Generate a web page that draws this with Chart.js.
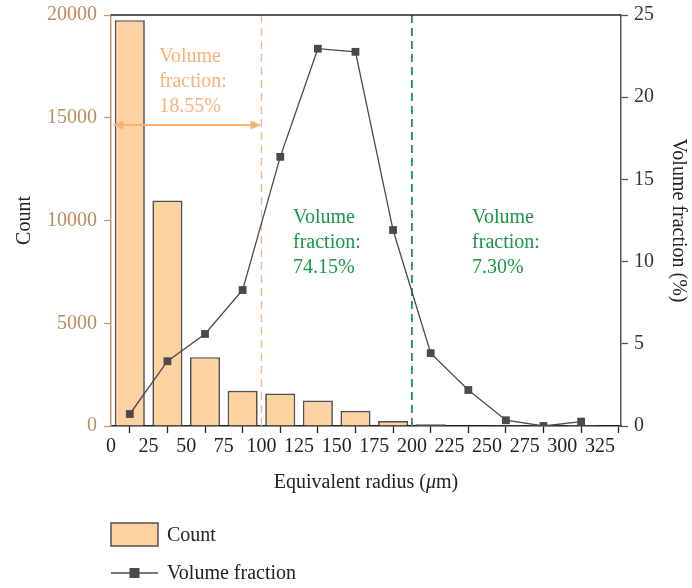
<!DOCTYPE html>
<html>
<head>
<meta charset="utf-8">
<script src="https://cdn.jsdelivr.net/npm/chart.js@4/dist/chart.umd.min.js"></script>
<style>
  html, body { margin: 0; padding: 0; background: #fff; }
  #wrap { width: 692px; height: 588px; }
</style>
</head>
<body>
<div id="wrap"><canvas id="c" width="692" height="588"></canvas></div>
<script>
// ---- data ----
const binCenters = [12.5, 37.5, 62.5, 87.5, 112.5, 137.5, 162.5, 187.5, 212.5, 237.5, 262.5, 287.5, 312.5];
const counts = [19750, 10970, 3350, 1710, 1580, 1240, 740, 240, 80, 30, 10, 4, 2];
const volumeFraction = [0.73, 3.94, 5.6, 8.27, 16.37, 22.95, 22.76, 11.92, 4.43, 2.19, 0.35, 0.0, 0.27];
const xTicks = [0, 25, 50, 75, 100, 125, 150, 175, 200, 225, 250, 275, 300, 325];
const countTicks = [0, 5000, 10000, 15000, 20000];
const volumeTicks = [0, 5, 10, 15, 20, 25];
const boundaries = [100, 200];
const arrowCountLevel = 14650;
const noteOrange = ['Volume', 'fraction:', '18.55%'];
const noteGreenMid = ['Volume', 'fraction:', '74.15%'];
const noteGreenRight = ['Volume', 'fraction:', '7.30%'];

// ---- styles ----
const FONT = "'Liberation Serif', 'DejaVu Serif', serif";
const ORANGE = '#F7B27A';
const ORANGE_DASH = '#F5B888';
const GREEN = '#1A9648';
const TAN = '#C49A6C';
const TAN_TEXT = '#B98C5E';
const DARK = '#4A4A4A';
const BAR_FILL = '#FDD2A0';

Chart.defaults.font.family = FONT;
Chart.defaults.font.size = 20;
Chart.defaults.color = '#222';

const annotations = [
  { lines: noteOrange, x: 32, y: 17700, color: ORANGE },
  { lines: noteGreenMid, x: 121, y: 9880, color: GREEN },
  { lines: noteGreenRight, x: 240, y: 9880, color: GREEN }
];

const overlay = {
  id: 'overlay',
  beforeDatasetsDraw(chart) {
    const { ctx, chartArea: a, scales } = chart;
    const x = scales.x, y = scales.y;
    ctx.save();
    boundaries.forEach((b, i) => {
      const px = x.getPixelForValue(b);
      ctx.beginPath();
      ctx.setLineDash([8, 5]);
      ctx.strokeStyle = i === 0 ? ORANGE_DASH : GREEN;
      ctx.lineWidth = i === 0 ? 1.4 : 1.8;
      ctx.moveTo(px, a.top);
      ctx.lineTo(px, a.bottom);
      ctx.stroke();
    });
    ctx.setLineDash([]);
    ctx.font = '20px ' + FONT;
    ctx.textAlign = 'left'; ctx.textBaseline = 'alphabetic';
    annotations.forEach(n => {
      const px = x.getPixelForValue(n.x), py = y.getPixelForValue(n.y);
      ctx.fillStyle = n.color;
      n.lines.forEach((t, k) => ctx.fillText(t, px, py + k * 25));
    });
    ctx.restore();
  },
  afterDatasetsDraw(chart) {
    const { ctx, scales } = chart;
    const x = scales.x, y = scales.y;
    ctx.save();
    const ay = y.getPixelForValue(arrowCountLevel);
    const x0 = x.getPixelForValue(0) + 1.5;
    const x1 = x.getPixelForValue(boundaries[0]);
    ctx.strokeStyle = ORANGE; ctx.fillStyle = ORANGE; ctx.lineWidth = 2;
    ctx.beginPath(); ctx.moveTo(x0 + 8, ay); ctx.lineTo(x1 - 8, ay); ctx.stroke();
    ctx.beginPath(); ctx.moveTo(x0, ay); ctx.lineTo(x0 + 11, ay - 4.5); ctx.lineTo(x0 + 11, ay + 4.5); ctx.closePath(); ctx.fill();
    ctx.beginPath(); ctx.moveTo(x1, ay); ctx.lineTo(x1 - 11, ay - 4.5); ctx.lineTo(x1 - 11, ay + 4.5); ctx.closePath(); ctx.fill();
    ctx.restore();
  },
  afterDraw(chart) {
    const { ctx, chartArea: a } = chart;
    ctx.save();
    ctx.strokeStyle = '#222'; ctx.lineWidth = 1.5;
    ctx.beginPath(); ctx.moveTo(a.left, a.top); ctx.lineTo(a.right, a.top); ctx.stroke();
    const cx = (a.left + a.right) / 2, ty = a.bottom + 62;
    const p1 = 'Equivalent radius (', mu = '\u03BC', p2 = 'm)';
    ctx.fillStyle = '#222'; ctx.textBaseline = 'alphabetic'; ctx.textAlign = 'left';
    ctx.font = '20px ' + FONT; const w1 = ctx.measureText(p1).width, w3 = ctx.measureText(p2).width;
    ctx.font = 'italic 20px ' + FONT; const w2 = ctx.measureText(mu).width;
    let sx = cx - (w1 + w2 + w3) / 2;
    ctx.font = '20px ' + FONT; ctx.fillText(p1, sx, ty);
    ctx.font = 'italic 20px ' + FONT; ctx.fillText(mu, sx + w1, ty);
    ctx.font = '20px ' + FONT; ctx.fillText(p2, sx + w1 + w2, ty);
    const ds = chart.data.datasets;
    const lx = a.left, ly = a.bottom + 97;
    ctx.fillStyle = ds[0].backgroundColor; ctx.strokeStyle = ds[0].borderColor; ctx.lineWidth = 1.5;
    ctx.fillRect(lx, ly, 47, 23); ctx.strokeRect(lx, ly, 47, 23);
    ctx.fillStyle = '#222'; ctx.font = '20px ' + FONT;
    ctx.fillText(ds[0].label, lx + 56, ly + 18);
    const ly2 = ly + 50;
    ctx.strokeStyle = ds[1].borderColor; ctx.lineWidth = 1.3;
    ctx.beginPath(); ctx.moveTo(lx, ly2); ctx.lineTo(lx + 47, ly2); ctx.stroke();
    ctx.fillStyle = ds[1].pointBackgroundColor; ctx.fillRect(lx + 23.5 - 5, ly2 - 5, 10, 10);
    ctx.fillStyle = '#222';
    ctx.fillText(ds[1].label, lx + 56, ly2 + 6);
    ctx.restore();
  }
};

new Chart(document.getElementById('c'), {
  type: 'bar',
  data: {
    datasets: [
      {
        type: 'bar', label: 'Count', order: 1,
        data: binCenters.map((c, i) => ({ x: c, y: counts[i] })),
        backgroundColor: BAR_FILL, borderColor: '#505050', borderWidth: 1.7,
        barPercentage: 0.8, categoryPercentage: 1.0, yAxisID: 'y', xAxisID: 'x'
      },
      {
        type: 'line', label: 'Volume fraction', order: 0,
        data: binCenters.map((c, i) => ({ x: c, y: volumeFraction[i] })),
        borderColor: DARK, borderWidth: 1.3, tension: 0,
        pointStyle: 'rect', pointRadius: 5.5, pointBorderWidth: 0,
        pointBackgroundColor: DARK, pointBorderColor: DARK,
        yAxisID: 'y1', xAxisID: 'x'
      }
    ]
  },
  options: {
    responsive: false, animation: false,
    layout: { padding: { top: 15, left: 0, right: 0, bottom: 0 } },
    plugins: { legend: { display: false }, tooltip: { enabled: false } },
    scales: {
      x: {
        type: 'linear', min: 0, max: 339, offset: false,
        afterFit(s) { s.height = 162; s.paddingLeft = 0; s.paddingRight = 0; },
        afterBuildTicks(s) { s.ticks = xTicks.map(v => ({ value: v })); },
        ticks: { color: '#222', padding: 2, maxRotation: 0, autoSkip: false, font: { size: 20 }, callback: v => String(v) },
        grid: { drawOnChartArea: false, drawTicks: true, tickLength: 7, tickColor: '#222', tickWidth: 1.3 },
        border: { color: '#222', width: 1.5 }
      },
      y: {
        position: 'left', min: 0, max: 20000,
        afterFit(s) { s.width = 111; s.paddingTop = 0; s.paddingBottom = 0; },
        afterBuildTicks(s) { s.ticks = countTicks.map(v => ({ value: v })); },
        ticks: { color: TAN_TEXT, padding: 7, font: { size: 20 }, callback: v => String(v) },
        grid: { drawOnChartArea: false, drawTicks: true, tickLength: 7, tickColor: TAN, tickWidth: 1.3 },
        border: { color: TAN, width: 1.5 },
        title: { display: true, text: 'Count', color: '#222', font: { size: 20 }, padding: { top: 13, bottom: 0 } }
      },
      y1: {
        position: 'right', min: 0, max: 25,
        afterFit(s) { s.width = 71; s.paddingTop = 0; s.paddingBottom = 0; },
        afterBuildTicks(s) { s.ticks = volumeTicks.map(v => ({ value: v })); },
        ticks: { color: '#333', padding: 6, font: { size: 20 }, callback: v => String(v) },
        grid: { drawOnChartArea: false, drawTicks: true, tickLength: 7, tickColor: '#555', tickWidth: 1.3 },
        border: { color: '#555', width: 1.5 },
        title: { display: true, text: 'Volume fraction (%)', color: '#222', font: { size: 20 }, padding: { top: 2, bottom: 0 } }
      }
    }
  },
  plugins: [overlay]
});
</script>
</body>
</html>
